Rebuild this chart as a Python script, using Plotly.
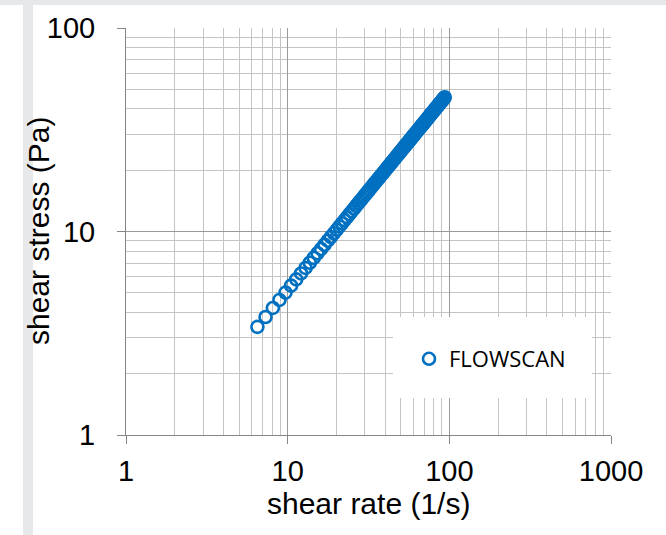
import plotly.graph_objects as go

# Flow curve: shear stress vs shear rate (log-log)
shear_rate = [
    6.5, 7.3, 8.1, 8.9, 9.7, 10.5, 11.3, 12.1, 12.9, 13.7,
    14.5, 15.3, 16.1, 16.9, 17.7, 18.5, 19.3, 20.1, 20.9, 21.7,
    22.5, 23.3, 24.1, 24.9, 25.7, 26.5, 27.3, 28.1, 28.9, 29.7,
    30.5, 31.3, 32.1, 32.9, 33.7, 34.5, 35.3, 36.1, 36.9, 37.7,
    38.5, 39.3, 40.1, 40.9, 41.7, 42.5, 43.3, 44.1, 44.9, 45.7,
    46.5, 47.3, 48.1, 48.9, 49.7, 50.5, 51.3, 52.1, 52.9, 53.7,
    54.5, 55.3, 56.1, 56.9, 57.7, 58.5, 59.3, 60.1, 60.9, 61.7,
    62.5, 63.3, 64.1, 64.9, 65.7, 66.5, 67.3, 68.1, 68.9, 69.7,
    70.5, 71.3, 72.1, 72.9, 73.7, 74.5, 75.3, 76.1, 76.9, 77.7,
    78.5, 79.3, 80.1, 80.9, 81.7, 82.5, 83.3, 84.1, 84.9, 85.7,
    86.5, 87.3, 88.1, 88.9, 89.7, 90.5, 91.3, 92.1, 92.9, 93.7,
]
shear_stress = [
    3.40, 3.80, 4.21, 4.61, 5.01, 5.42, 5.82, 6.22, 6.62, 7.02,
    7.42, 7.82, 8.21, 8.61, 9.01, 9.40, 9.80, 10.19, 10.59, 10.98,
    11.38, 11.77, 12.17, 12.56, 12.95, 13.35, 13.74, 14.13, 14.52, 14.91,
    15.30, 15.70, 16.09, 16.48, 16.87, 17.26, 17.65, 18.04, 18.43, 18.82,
    19.20, 19.59, 19.98, 20.37, 20.75, 21.14, 21.53, 21.92, 22.31, 22.69,
    23.08, 23.47, 23.85, 24.24, 24.63, 25.01, 25.40, 25.78, 26.17, 26.55,
    26.94, 27.32, 27.71, 28.09, 28.48, 28.86, 29.25, 29.63, 30.01, 30.40,
    30.78, 31.16, 31.55, 31.93, 32.32, 32.70, 33.08, 33.46, 33.84, 34.23,
    34.61, 34.99, 35.37, 35.76, 36.14, 36.52, 36.90, 37.28, 37.67, 38.05,
    38.43, 38.81, 39.19, 39.58, 39.95, 40.33, 40.72, 41.10, 41.48, 41.86,
    42.25, 42.63, 43.00, 43.38, 43.76, 44.15, 44.53, 44.91, 45.29, 45.67,
]
series_name = "FLOWSCAN"
x_title = "shear rate (1/s)"
y_title = "shear stress (Pa)"
x_ticks = [1, 10, 100, 1000]
y_ticks = [1, 10, 100]

BLUE = "#0070C0"
MAJOR = "#9a9a9a"
MINOR = "#c4c4c4"
AXIS = "#868686"
FONT = "Liberation Sans, Arial, sans-serif"

fig = go.Figure()
fig.add_trace(go.Scatter(
    x=shear_rate, y=shear_stress, mode="markers", name=series_name,
    marker=dict(symbol="circle-open", size=12, color=BLUE,
                line=dict(width=2.6, color=BLUE)),
))

axis_common = dict(
    type="log", showline=True, linecolor=AXIS, linewidth=1,
    showgrid=True, gridcolor=MAJOR, gridwidth=1,
    ticks="outside", ticklen=8, tickcolor=AXIS, tickwidth=1,
    tickfont=dict(family=FONT, size=29, color="#000000"),
    zeroline=False,
    minor=dict(showgrid=True, gridcolor=MINOR, gridwidth=1, dtick="D1", ticks=""),
)

fig.update_xaxes(
    **axis_common, range=[0, 3], tickvals=x_ticks, ticktext=[str(v) for v in x_ticks],
    ticklabelstandoff=2,
)
fig.update_yaxes(
    **axis_common, range=[0, 2], tickvals=y_ticks, ticktext=[str(v) for v in y_ticks],
    ticklabelstandoff=16,
)

# page frame strips and the legend panel
L, R, T, B = 126, 55, 28, 100
W, H = 666, 535
pw, ph = W - L - R, H - T - B
def px(x):
    return (x - L) / pw
def py(y):
    return (H - B - y) / ph

shapes = [
    dict(type="rect", xref="paper", yref="paper", x0=px(0), x1=px(W), y0=py(5), y1=py(0),
         fillcolor="#e7e8ea", line=dict(width=0), layer="below"),
    dict(type="rect", xref="paper", yref="paper", x0=px(23), x1=px(33), y0=py(H), y1=py(5),
         fillcolor="#e7e8ea", line=dict(width=0), layer="below"),
    dict(type="rect", xref="paper", yref="paper", x0=px(393), x1=px(592), y0=py(398), y1=py(317),
         fillcolor="#ffffff", line=dict(width=0), layer="above"),
]

title_font = dict(family=FONT, size=30, color="#000000")
annotations = [
    dict(text=x_title, xref="paper", yref="paper", x=px(368), y=py(503),
         xanchor="center", yanchor="middle", showarrow=False, font=title_font),
    dict(text=y_title, xref="paper", yref="paper", x=px(39), y=py(231),
         xanchor="center", yanchor="middle", showarrow=False, textangle=-90, font=title_font),
]

fig.update_layout(
    width=W, height=H,
    margin=dict(l=L, r=R, t=T, b=B),
    paper_bgcolor="#ffffff", plot_bgcolor="#ffffff",
    shapes=shapes, annotations=annotations,
    showlegend=True,
    legend=dict(x=px(409), y=py(359), xanchor="left", yanchor="middle",
                bgcolor="rgba(0,0,0,0)", borderwidth=0,
                font=dict(family="Open Sans, sans-serif", size=22, color="#000000")),
)

fig.write_html("out.html")
